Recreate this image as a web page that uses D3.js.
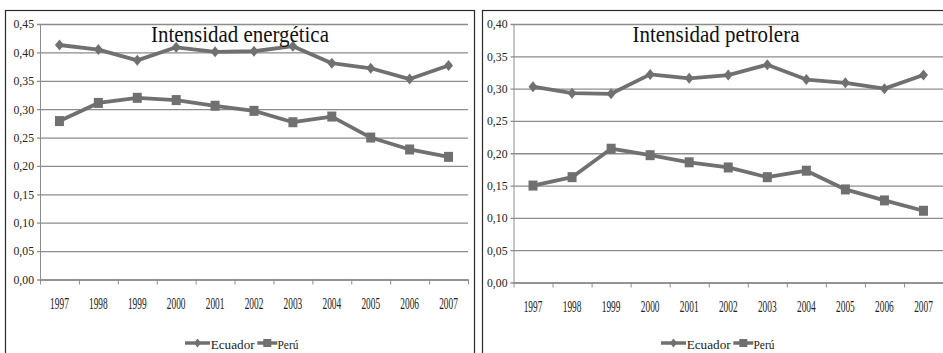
<!DOCTYPE html>
<html>
<head>
<meta charset="utf-8">
<script src="https://cdn.jsdelivr.net/npm/d3@7"></script>
<style>
  html, body { margin: 0; padding: 0; background: #fff; }
  svg { display: block; }
</style>
</head>
<body>
<script>
// Years on the horizontal axis
const years = ["1997", "1998", "1999", "2000", "2001", "2002", "2003", "2004", "2005", "2006", "2007"];

// Energy intensity
const energyEcuador = [0.413, 0.405, 0.386, 0.409, 0.401, 0.402, 0.411, 0.381, 0.372, 0.353, 0.377];
const energyPeru    = [0.279, 0.311, 0.320, 0.316, 0.306, 0.297, 0.277, 0.287, 0.250, 0.229, 0.216];
const energyTicks   = [0, 0.05, 0.10, 0.15, 0.20, 0.25, 0.30, 0.35, 0.40, 0.45];

// Oil intensity
const oilEcuador = [0.303, 0.293, 0.292, 0.322, 0.316, 0.321, 0.337, 0.314, 0.309, 0.300, 0.321];
const oilPeru    = [0.150, 0.163, 0.207, 0.197, 0.186, 0.178, 0.163, 0.173, 0.144, 0.127, 0.111];
const oilTicks   = [0, 0.05, 0.10, 0.15, 0.20, 0.25, 0.30, 0.35, 0.40];

const seriesNames = ["Ecuador", "Perú"];

const W = 943, H = 353;
const LINE = "#707070", GRID = "#8c8c8c";
const SERIF = "'Liberation Serif', 'Times New Roman', serif";

const locale = d3.formatLocale({ decimal: ",", thousands: ".", grouping: [3], currency: ["", ""] });
const fmt = locale.format(".2f");

const svg = d3.select("body").append("svg").attr("width", W).attr("height", H);

// squeeze text horizontally to a given width, keeping its anchor point fixed
function condense(sel, target) {
  sel.each(function () {
    const w = this.getComputedTextLength();
    if (!w) return;
    const s = target / w;
    const x = +this.getAttribute("x") || 0;
    d3.select(this).attr("transform", `translate(${x},0) scale(${s},1) translate(${-x},0)`);
  });
}

function drawMarker(g, shape, cx, cy) {
  if (shape === "diamond") {
    g.append("path")
      .attr("d", `M${cx},${cy - 5.5}L${cx + 4.5},${cy}L${cx},${cy + 5.5}L${cx - 4.5},${cy}Z`)
      .attr("fill", LINE);
  } else {
    g.append("rect")
      .attr("x", cx - 4.5).attr("y", cy - 5)
      .attr("width", 9).attr("height", 10)
      .attr("fill", LINE);
  }
}

function drawPanel(p) {
  const g = svg.append("g");

  // panel frame (bottom and far right run past the window)
  g.append("rect")
    .attr("x", p.frame[0] + 0.5).attr("y", p.frame[1] + 0.5)
    .attr("width", p.frame[2]).attr("height", H)
    .attr("fill", "none").attr("stroke", "#2a2a2a").attr("stroke-width", 1.2);

  const x = d3.scaleBand().domain(years).range([p.left, p.right]).padding(0);
  const y = d3.scaleLinear().domain([0, p.max]).range([p.bottom, p.top]);

  // horizontal gridlines + y labels
  const yAxis = g.append("g")
    .attr("transform", `translate(${p.left},0)`)
    .call(d3.axisLeft(y).tickValues(p.ticks).tickFormat(fmt)
      .tickSize(-(p.right - p.left)).tickSizeOuter(0).tickPadding(6));
  yAxis.attr("font-family", null).attr("font-size", null);
  yAxis.select(".domain").attr("stroke", GRID).attr("stroke-width", 1);
  yAxis.selectAll(".tick line").attr("stroke", GRID).attr("stroke-width", 1.3).attr("x1", -3);
  yAxis.selectAll(".tick text")
    .style("font-family", SERIF).style("font-size", "12px").attr("fill", "#222")
    .call(condense, 20.5);

  // x axis: category boundaries as ticks, year labels at band centres
  const edges = d3.scaleLinear().domain([0, years.length]).range([p.left, p.right]);
  const xTicks = g.append("g")
    .attr("transform", `translate(0,${p.bottom})`)
    .call(d3.axisBottom(edges).tickValues(d3.range(years.length + 1))
      .tickFormat("").tickSize(5).tickSizeOuter(0));
  xTicks.select(".domain").attr("stroke", GRID).attr("stroke-width", 1.3);
  xTicks.selectAll(".tick line").attr("stroke", GRID).attr("stroke-width", 1);

  const xLabels = g.append("g")
    .attr("transform", `translate(0,${p.bottom})`)
    .call(d3.axisBottom(x).tickSize(0).tickPadding(18));
  xLabels.attr("font-family", null).attr("font-size", null);
  xLabels.select(".domain").remove();
  xLabels.selectAll(".tick text")
    .style("font-family", SERIF).style("font-size", "16px").attr("fill", "#222")
    .call(condense, 18.7);

  // series
  const line = d3.line().x((d, i) => x(years[i]) + x.bandwidth() / 2).y(d => y(d));
  p.series.forEach(s => {
    g.append("path").datum(s.values)
      .attr("d", line).attr("fill", "none")
      .attr("stroke", LINE).attr("stroke-width", 3.8).attr("stroke-linejoin", "round");
    const mg = g.append("g");
    s.values.forEach((v, i) => drawMarker(mg, s.shape, x(years[i]) + x.bandwidth() / 2, y(v)));
  });

  // title
  g.append("text")
    .attr("x", p.center).attr("y", p.titleY)
    .attr("text-anchor", "middle")
    .style("font-family", SERIF).style("font-size", "24px")
    .attr("fill", "#111")
    .text(p.title)
    .call(condense, p.titleLen);

  // legend
  const lg = g.append("g").attr("transform", `translate(${p.center},${p.legendY})`);
  const items = [
    { x0: -55, x1: -30, tx: -29.3, tl: 44, shape: "diamond", name: seriesNames[0] },
    { x0: 17.3, x1: 37.3, tx: 37.5, tl: 21, shape: "square", name: seriesNames[1] }
  ];
  items.forEach(it => {
    lg.append("line").attr("x1", it.x0).attr("x2", it.x1).attr("y1", 0).attr("y2", 0)
      .attr("stroke", LINE).attr("stroke-width", 3.5);
    const mx = (it.x0 + it.x1) / 2;
    if (it.shape === "diamond") {
      lg.append("path").attr("d", `M${mx},-4.5L${mx + 3.5},0L${mx},4.5L${mx - 3.5},0Z`).attr("fill", LINE);
    } else {
      lg.append("rect").attr("x", mx - 4).attr("y", -4).attr("width", 8).attr("height", 8).attr("fill", LINE);
    }
    lg.append("text").attr("x", it.tx).attr("y", 6)
      .style("font-family", SERIF).style("font-size", "13px").attr("fill", "#222")
      .text(it.name)
      .call(condense, it.tl);
  });
}

drawPanel({
  frame: [5, 10, 469],
  left: 40, right: 468, top: 24, bottom: 279.5,
  max: 0.45, ticks: energyTicks,
  center: 240, titleY: 42, titleLen: 178, legendY: 343,
  title: "Intensidad energética",
  series: [
    { values: energyEcuador, shape: "diamond" },
    { values: energyPeru, shape: "square" }
  ]
});

drawPanel({
  frame: [482, 10, 470],
  left: 513.5, right: 943, top: 24, bottom: 282.5,
  max: 0.40, ticks: oilTicks,
  center: 716, titleY: 42, titleLen: 167, legendY: 343,
  title: "Intensidad petrolera",
  series: [
    { values: oilEcuador, shape: "diamond" },
    { values: oilPeru, shape: "square" }
  ]
});
</script>
</body>
</html>
